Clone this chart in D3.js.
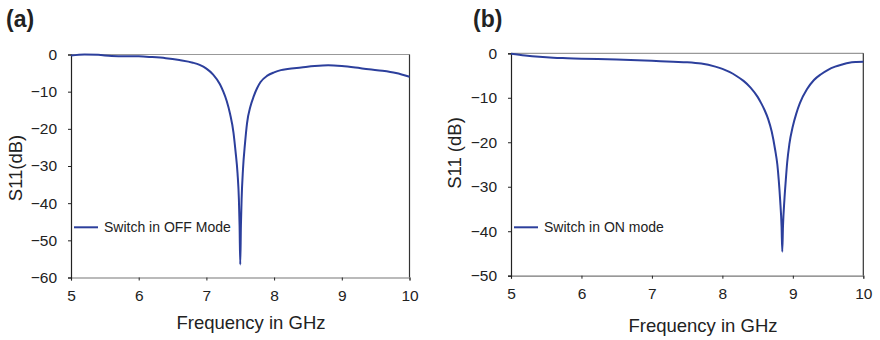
<!DOCTYPE html>
<html>
<head>
<meta charset="utf-8">
<script src="https://cdn.jsdelivr.net/npm/d3@7"></script>
<style>
  body { margin: 0; background: #fff; }
  text { font-family: "Liberation Sans", Arial, sans-serif; fill: #222; }
</style>
</head>
<body>
<div id="chart"></div>
<script>
// panel (a) - switch OFF
var freqA = [5.0, 5.2, 5.4, 5.6, 5.8, 6.0, 6.2, 6.4, 6.6, 6.8, 6.9, 7.0, 7.1, 7.2, 7.25, 7.3, 7.35, 7.4, 7.43, 7.46, 7.48, 7.49, 7.5,
  7.51, 7.52, 7.54, 7.57, 7.6, 7.65, 7.7, 7.75, 7.8, 7.9, 8.0, 8.1, 8.2, 8.4, 8.6, 8.8, 9.0, 9.2, 9.4, 9.6, 9.8, 10.0];
var s11A = [-0.3, 0.0, -0.1, -0.4, -0.5, -0.5, -0.7, -1.0, -1.5, -2.2, -2.8, -3.8, -5.4, -8.0, -10, -12.5, -16, -21, -26, -32, -39, -46, -56.5,
  -46, -39, -31, -24, -18.5, -14, -11.2, -9.0, -7.4, -5.7, -4.8, -4.2, -3.9, -3.5, -3.1, -2.9, -3.1, -3.5, -4.0, -4.4, -5.0, -6.0];

// panel (b) - switch ON
var freqB = [5.0, 5.2, 5.4, 5.6, 5.8, 6.0, 6.5, 7.0, 7.3, 7.5, 7.7, 7.9, 8.0, 8.1, 8.2, 8.3, 8.4, 8.5, 8.55, 8.6, 8.65, 8.7, 8.75, 8.78,
  8.8, 8.82, 8.84, 8.85, 8.86, 8.88, 8.9, 8.92, 8.95, 9.0, 9.05, 9.1, 9.2, 9.3, 9.4, 9.5, 9.6, 9.7, 9.8, 9.9, 10.0];
var s11B = [-0.1, -0.5, -0.8, -1.0, -1.1, -1.2, -1.4, -1.7, -1.9, -2.0, -2.3, -3.0, -3.5, -4.2, -5.1, -6.2, -7.7, -9.8, -11.2, -12.8, -14.8, -17.6, -21.8, -25,
  -28.5, -33, -39, -44.6, -39, -33, -28.5, -24.5, -20.5, -16.4, -13.5, -11.2, -8.1, -6.0, -4.7, -3.7, -3.0, -2.5, -2.1, -1.95, -1.9];

var xTicks = [5, 6, 7, 8, 9, 10];
var yTicksA = [0, -10, -20, -30, -40, -50, -60];
var yTicksB = [0, -10, -20, -30, -40, -50];

var lineColor = "#2c3f9c";

var svg = d3.select("#chart").append("svg")
  .attr("width", 880)
  .attr("height", 340);

function panel(opt) {
  var x = d3.scaleLinear().domain([5, 10]).range([opt.left, opt.right]);
  var y = d3.scaleLinear().domain([0, opt.ymin]).range([opt.top, opt.bottom]);
  var g = svg.append("g");

  // frame
  g.append("line").attr("x1", opt.left).attr("x2", opt.right).attr("y1", opt.top).attr("y2", opt.top)
    .attr("stroke", "#999").attr("stroke-width", 1.2);
  g.append("line").attr("x1", opt.right).attr("x2", opt.right).attr("y1", opt.top).attr("y2", opt.bottom)
    .attr("stroke", "#333").attr("stroke-width", 1.2);

  var xAxis = g.append("g")
    .attr("transform", "translate(0," + opt.bottom + ")")
    .call(d3.axisBottom(x).tickValues(xTicks).tickSize(3).tickPadding(9).tickFormat(d3.format("d")));
  xAxis.select(".domain").attr("stroke", "#777").attr("stroke-width", 1.2);
  xAxis.selectAll(".tick line").attr("stroke", "#222");
  xAxis.selectAll("text").attr("font-size", 15.5).attr("fill", "#222")
    .style("font-family", "'Liberation Sans', Arial, sans-serif");

  var yAxis = g.append("g")
    .attr("transform", "translate(" + opt.left + ",0)")
    .call(d3.axisLeft(y).tickValues(opt.yticks).tickSize(3).tickPadding(11).tickFormat(d3.format("d")));
  yAxis.select(".domain").attr("stroke", "#222").attr("stroke-width", 1.2);
  yAxis.selectAll(".tick line").attr("stroke", "#222");
  yAxis.selectAll("text").attr("font-size", 15.5).attr("fill", "#222")
    .style("font-family", "'Liberation Sans', Arial, sans-serif");

  var line = d3.line()
    .x(function(d) { return x(d[0]); })
    .y(function(d) { return y(d[1]); })
    .curve(d3.curveMonotoneX);

  g.append("path")
    .datum(d3.zip(opt.freq, opt.s11))
    .attr("fill", "none")
    .attr("stroke", lineColor)
    .attr("stroke-width", 2)
    .attr("d", line);

  // legend
  g.append("line")
    .attr("x1", opt.left + 3).attr("x2", opt.left + 27)
    .attr("y1", opt.legendY).attr("y2", opt.legendY)
    .attr("stroke", lineColor).attr("stroke-width", 2);
  g.append("text")
    .attr("x", opt.left + 33).attr("y", opt.legendY + 5)
    .attr("font-size", 14)
    .text(opt.legend);

  // titles
  g.append("text")
    .attr("x", opt.xTitleX).attr("y", opt.xTitleY)
    .attr("text-anchor", "middle")
    .attr("font-size", 18.5)
    .text("Frequency in GHz");
  g.append("text")
    .attr("transform", "translate(" + opt.yTitleX + "," + opt.yTitleY + ") rotate(-90)")
    .attr("text-anchor", "middle")
    .attr("font-size", 18.5)
    .text(opt.yTitle);

  g.append("text")
    .attr("x", opt.labelX).attr("y", 27)
    .attr("font-size", 23)
    .attr("font-weight", "bold")
    .text(opt.label);
}

panel({
  left: 71, right: 409.5, top: 54.5, bottom: 277.5, ymin: -60, yticks: yTicksA,
  freq: freqA, s11: s11A, legend: "Switch in OFF Mode", legendY: 227.3,
  xTitleX: 251, xTitleY: 329, yTitle: "S11(dB)", yTitleX: 22, yTitleY: 168,
  label: "(a)", labelX: 6
});

panel({
  left: 511, right: 863.3, top: 53.3, bottom: 275.7, ymin: -50, yticks: yTicksB,
  freq: freqB, s11: s11B, legend: "Switch in ON mode", legendY: 227.3,
  xTitleX: 703, xTitleY: 331.5, yTitle: "S11 (dB)", yTitleX: 461, yTitleY: 153,
  label: "(b)", labelX: 473
});
</script>
</body>
</html>
